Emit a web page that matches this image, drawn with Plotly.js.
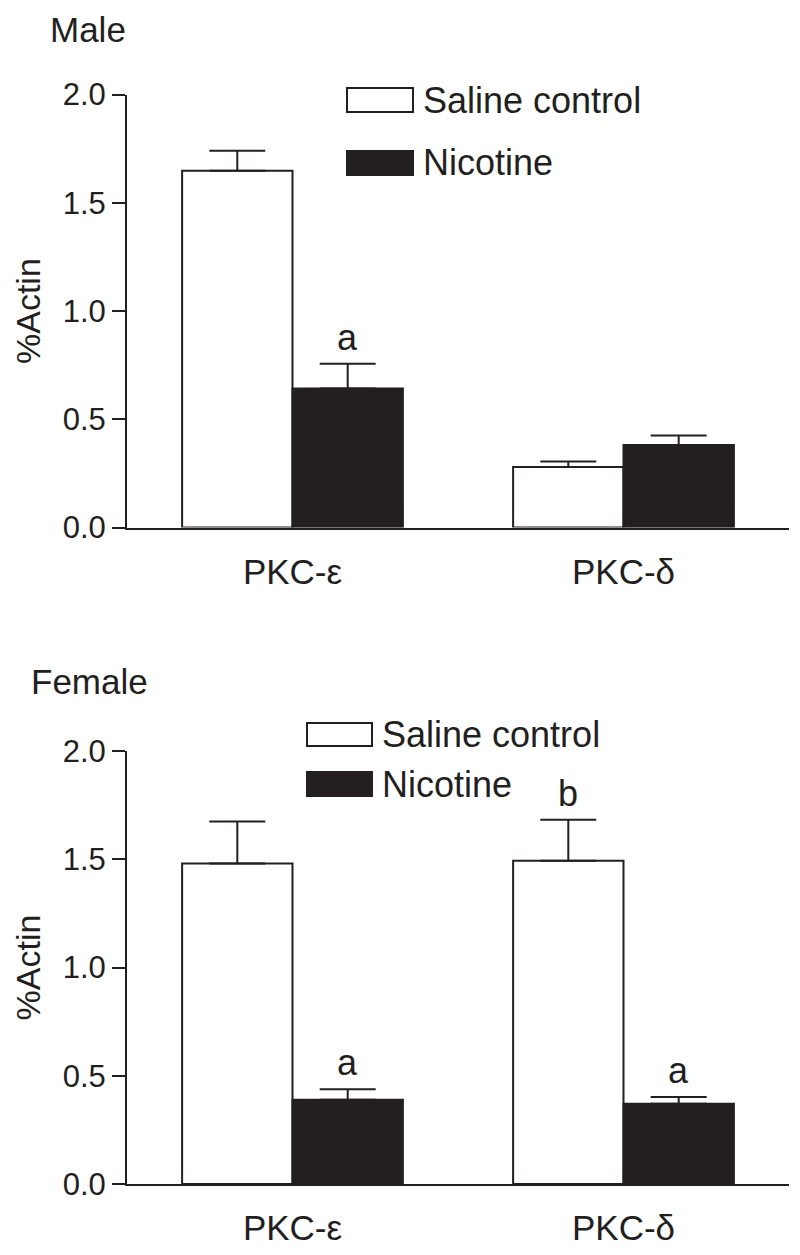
<!DOCTYPE html>
<html>
<head>
<meta charset="utf-8">
<script src="https://cdn.plot.ly/plotly-3.0.1.min.js"></script>
<style>html,body{margin:0;padding:0;background:#fff;}#chart{width:800px;height:1255px;}</style>
</head>
<body>
<div id="chart"></div>
<script>
// ---- data ----
const categories = ['PKC-ε', 'PKC-δ'];
const seriesNames = ['Saline control', 'Nicotine'];

const maleSaline = [1.648, 0.280];
const maleSalineErr = [0.093, 0.025];
const maleNicotine = [0.642, 0.381];
const maleNicotineErr = [0.115, 0.044];

const femaleSaline = [1.480, 1.493];
const femaleSalineErr = [0.194, 0.190];
const femaleNicotine = [0.389, 0.371];
const femaleNicotineErr = [0.049, 0.031];

const maleSalineLetters = ['', ''];
const maleNicotineLetters = ['a', ''];
const femaleSalineLetters = ['', 'b'];
const femaleNicotineLetters = ['a', 'a'];

const panelTitles = ['Male', 'Female'];
const yTitle = '%Actin';
const yTicks = [0, 0.5, 1.0, 1.5, 2.0];

// ---- styling ----
const W = 800, H = 1255;
const INK = '#231f20';
const FONT = 'Liberation Sans, Arial, Helvetica, sans-serif';
const ML = 127, MR = 11;
const plotW = W - ML - MR;
const px2x = p => (p - ML) / plotW;
const py2y = p => (H - p) / H;

function barTrace(name, y, err, xa, ya, fill) {
  return {
    type: 'bar', name: name, x: categories, y: y,
    xaxis: xa, yaxis: ya, showlegend: false,
    marker: {color: fill, line: {color: INK, width: 2}},
    error_y: {type: 'data', symmetric: false, array: err,
      arrayminus: err.map(() => 0), color: INK, thickness: 2, width: 28},
    hoverinfo: 'skip'
  };
}

const data = [
  barTrace(seriesNames[0], maleSaline, maleSalineErr, 'x', 'y', '#ffffff'),
  barTrace(seriesNames[1], maleNicotine, maleNicotineErr, 'x', 'y', INK),
  barTrace(seriesNames[0], femaleSaline, femaleSalineErr, 'x2', 'y2', '#ffffff'),
  barTrace(seriesNames[1], femaleNicotine, femaleNicotineErr, 'x2', 'y2', INK)
];

const annotations = [];
const OFF = 1 / 6;
function addLetters(letters, vals, errs, sign, xr, yr) {
  letters.forEach((t, i) => {
    if (!t) return;
    annotations.push({
      text: t, x: i + sign * OFF, y: vals[i] + errs[i], xref: xr, yref: yr,
      xanchor: 'center', yanchor: 'bottom', yshift: 4, showarrow: false,
      font: {family: FONT, size: 36, color: INK}
    });
  });
}
addLetters(maleSalineLetters, maleSaline, maleSalineErr, -1, 'x', 'y');
addLetters(maleNicotineLetters, maleNicotine, maleNicotineErr, 1, 'x', 'y');
addLetters(femaleSalineLetters, femaleSaline, femaleSalineErr, -1, 'x2', 'y2');
addLetters(femaleNicotineLetters, femaleNicotine, femaleNicotineErr, 1, 'x2', 'y2');

// panel titles
annotations.push({text: panelTitles[0], xref: 'paper', yref: 'paper',
  x: px2x(48), y: py2y(30), xanchor: 'left', yanchor: 'middle', showarrow: false,
  font: {family: FONT, size: 35, color: INK}});
annotations.push({text: panelTitles[1], xref: 'paper', yref: 'paper',
  x: px2x(29), y: py2y(681), xanchor: 'left', yanchor: 'middle', showarrow: false,
  font: {family: FONT, size: 35, color: INK}});

// legends (drawn manually to match large swatches)
const shapes = [];
function legend(x0, x1, rows, textX) {
  rows.forEach(r => {
    shapes.push({type: 'rect', xref: 'paper', yref: 'paper',
      x0: px2x(x0), x1: px2x(x1), y0: py2y(r.y1), y1: py2y(r.y0),
      line: {color: INK, width: 2}, fillcolor: r.fill});
    annotations.push({text: r.name, xref: 'paper', yref: 'paper',
      x: px2x(textX), y: py2y((r.y0 + r.y1) / 2), xanchor: 'left', yanchor: 'middle',
      showarrow: false, font: {family: FONT, size: 36, color: INK}});
  });
}
legend(347, 413, [
  {name: seriesNames[0], fill: '#ffffff', y0: 88, y1: 112},
  {name: seriesNames[1], fill: INK, y0: 151, y1: 175}
], 421);
legend(307, 372, [
  {name: seriesNames[0], fill: '#ffffff', y0: 723, y1: 746},
  {name: seriesNames[1], fill: INK, y0: 772, y1: 796}
], 380);

function yaxis(domain, anchor) {
  return {
    domain: domain, anchor: anchor, range: [0, 2], tickvals: yTicks,
    ticktext: yTicks.map(v => v.toFixed(1)),
    showline: true, linecolor: INK, linewidth: 2, showgrid: false, zeroline: false,
    ticks: 'outside', ticklen: 13, tickwidth: 2, tickcolor: INK,
    tickfont: {family: FONT, size: 31, color: INK},
    title: {text: yTitle, font: {family: FONT, size: 34, color: INK}, standoff: 12},
    fixedrange: true
  };
}
function xaxis(anchor) {
  return {
    anchor: anchor, domain: [0, 1], type: 'category', range: [-0.5, 1.5],
    showline: true, linecolor: INK, linewidth: 2, showgrid: false, ticks: '',
    tickfont: {family: FONT, size: 35, color: INK}, ticklabelstandoff: 12,
    fixedrange: true
  };
}

const layout = {
  width: W, height: H,
  margin: {l: ML, r: MR, t: 0, b: 0},
  paper_bgcolor: '#ffffff', plot_bgcolor: '#ffffff',
  barmode: 'group', bargap: 0.333, bargroupgap: 0,
  showlegend: false,
  xaxis: xaxis('y'),
  yaxis: yaxis([py2y(527.6), py2y(94.6)], 'x'),
  xaxis2: xaxis('y2'),
  yaxis2: yaxis([py2y(1184), py2y(751)], 'x2'),
  annotations: annotations, shapes: shapes,
  font: {family: FONT, color: INK}
};

Plotly.newPlot('chart', data, layout, {displayModeBar: false, staticPlot: true});
</script>
</body>
</html>
